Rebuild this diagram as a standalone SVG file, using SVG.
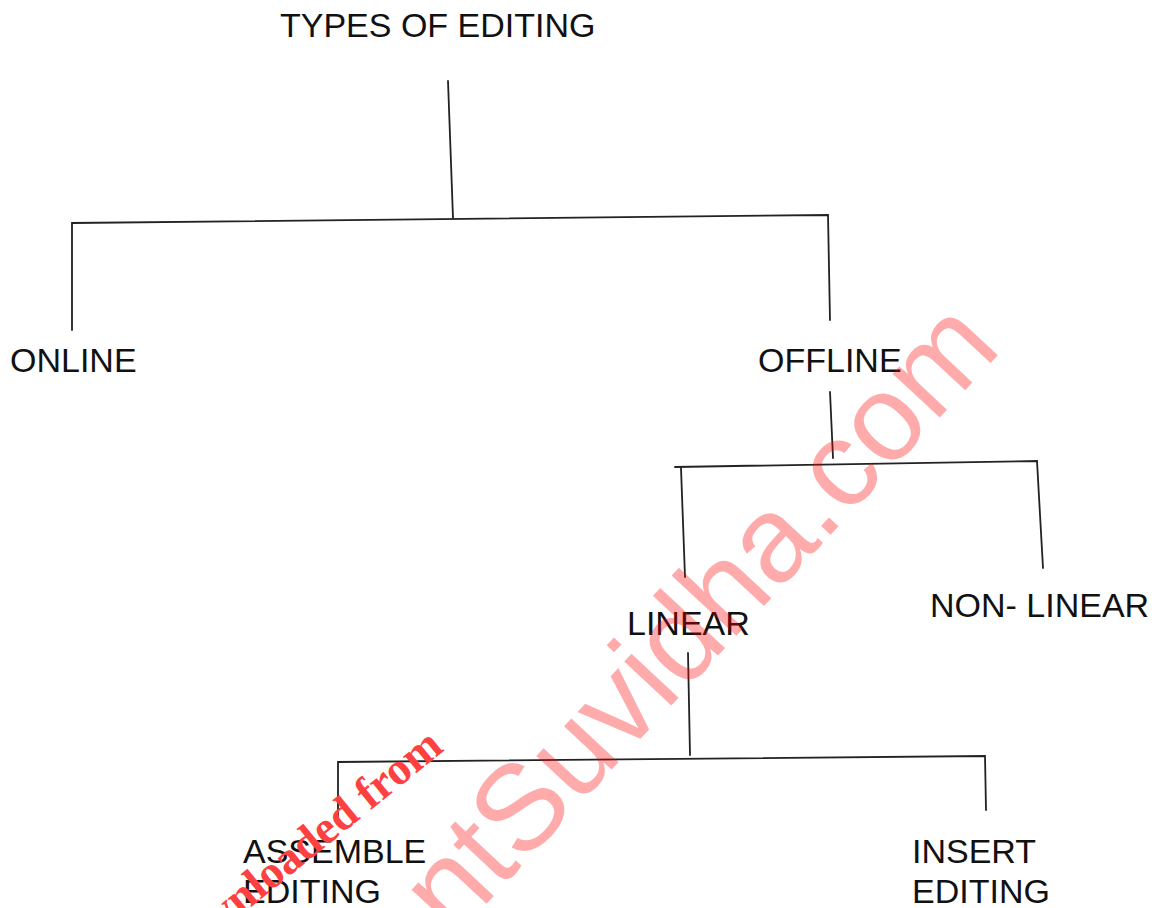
<svg xmlns="http://www.w3.org/2000/svg" width="1156" height="908" viewBox="0 0 1156 908">
<style>
.lbl{font-family:"Liberation Sans",Arial,sans-serif;font-size:34px;fill:#111}
.con{fill:none;stroke:#222;stroke-width:1.8;stroke-linecap:round}
.wm{font-family:"Liberation Sans",Arial,sans-serif;font-size:122px;fill:#ff0000;fill-opacity:0.33}
.wm2{font-family:"Liberation Serif","Times New Roman",serif;font-weight:bold;font-size:46px;fill:#ff4040}
</style>
<rect width="1156" height="908" fill="#ffffff"/>
<g id="connectors">
<path class="con" d="M448 81 L453 218"/>
<path class="con" d="M72 330 L72 223 L828 215 L830 320"/>
<path class="con" d="M830 392 L833 458"/>
<path class="con" d="M675 467 L1037 461 L1043 568"/>
<path class="con" d="M681 468 L685 577"/>
<path class="con" d="M688 653 L690 755"/>
<path class="con" d="M338 823 L338 762 L985 756 L986 810"/>
</g>
<g id="node-root"><text class="lbl" x="280" y="37">TYPES OF EDITING</text></g>
<g id="node-online"><text class="lbl" x="10" y="372">ONLINE</text></g>
<g id="node-offline"><text class="lbl" x="758" y="372">OFFLINE</text></g>
<g id="node-linear"><text class="lbl" x="627" y="635">LINEAR</text></g>
<g id="node-nonlinear"><text class="lbl" x="930" y="617">NON- LINEAR</text></g>
<g id="node-assemble"><text class="lbl" x="243" y="863">ASSEMBLE</text><text class="lbl" x="243" y="903">EDITING</text></g>
<g id="node-insert"><text class="lbl" x="912" y="863">INSERT</text><text class="lbl" x="912" y="903">EDITING</text></g>
<g id="watermark">
<text class="wm" transform="translate(235.6,1172.9) rotate(-47)">StudentSuvidha.com</text>
<text class="wm2" text-anchor="end" transform="translate(445,750) rotate(-39)">Downloaded from</text>
</g>
</svg>
